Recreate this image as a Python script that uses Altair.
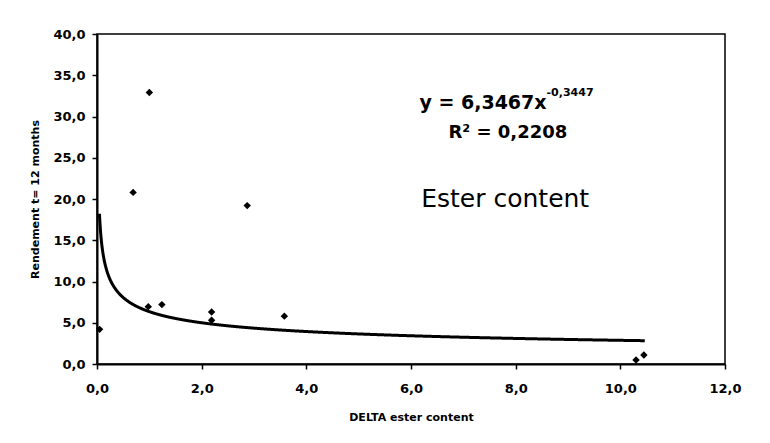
import altair as alt
import pandas as pd

# measured points (DELTA ester content, Rendement t=12 months)
x_vals = [0.05, 0.69, 1.00, 2.87, 0.98, 1.24, 2.19, 2.19, 3.58, 10.30, 10.45]
y_vals = [4.2, 20.8, 32.9, 19.2, 6.95, 7.2, 6.3, 5.3, 5.8, 0.48, 1.1]

x_ticks = [0, 2, 4, 6, 8, 10, 12]
y_ticks = [0, 5, 10, 15, 20, 25, 30, 35, 40]

# power trendline printed on the chart
fit_a = 6.3467
fit_b = -0.3447
fit_start = 0.047
fit_stop = 10.47

eq_main = "y = 6,3467x"
eq_exp = "-0,3447"
r2_text = "R² = 0,2208"
caption = "Ester content"

df = pd.DataFrame({"x": x_vals, "y": y_vals})
comma = "replace(format(datum.value, '.1f'), '.', ',')"

xscale = alt.Scale(domain=[0, 12], nice=False, zero=False)
yscale = alt.Scale(domain=[0, 40], nice=False, zero=False)

FONT = "DejaVu Sans"

xaxis = alt.Axis(values=x_ticks, labelExpr=comma, title="DELTA ester content", grid=False,
                 domainColor="black", domainWidth=2, tickColor="black", tickWidth=1.5,
                 tickSize=5, labelFont=FONT, labelFontWeight="bold", labelFontSize=13,
                 labelColor="black", labelPadding=13, titleFont=FONT, titleFontWeight="bold",
                 titleFontSize=11, titleColor="black", titlePadding=16, labelFlush=False)
yaxis = alt.Axis(values=y_ticks, labelExpr=comma, title="Rendement t= 12 months", grid=False,
                 domainColor="black", domainWidth=2, tickColor="black", tickWidth=1.5,
                 tickSize=5, labelFont=FONT, labelFontWeight="bold", labelFontSize=13,
                 labelColor="black", labelPadding=7, titleFont=FONT, titleFontWeight="bold",
                 titleFontSize=11, titleColor="black", titleX=-62, titleY=165,
                 titleAngle=-90, titleAlign="center", titleBaseline="middle", labelFlush=False)


def X():
    return alt.X("x:Q", scale=xscale, axis=xaxis)


def Y():
    return alt.Y("y:Q", scale=yscale, axis=yaxis)


points = alt.Chart(df).mark_point(shape="diamond", filled=True, color="black", size=55, opacity=1).encode(
    x=X(), y=Y())

curve = alt.Chart(alt.sequence(start=fit_start, stop=fit_stop, step=0.005, as_="x")).transform_calculate(
    y=f"{fit_a} * pow(datum.x, {fit_b})"
).mark_line(color="black", strokeWidth=3).encode(x=X(), y=Y())

ann = pd.DataFrame({
    "x": [8.59, 8.59, 7.85, 7.80],
    "y": [31.6, 32.9, 28.0, 20.0],
    "t": [eq_main, eq_exp, r2_text, caption],
})

eq1 = alt.Chart(ann.iloc[[0]]).mark_text(font=FONT, fontWeight="bold", fontSize=19, align="right",
                                          baseline="middle", color="black").encode(
    x=X(), y=Y(), text="t:N")
eq2 = alt.Chart(ann.iloc[[1]]).mark_text(font=FONT, fontWeight="bold", fontSize=11, align="left",
                                          baseline="middle", color="black").encode(
    x=X(), y=Y(), text="t:N")
r2 = alt.Chart(ann.iloc[[2]]).mark_text(font=FONT, fontWeight="bold", fontSize=18, align="center",
                                         baseline="middle", color="black").encode(
    x=X(), y=Y(), text="t:N")
cap = alt.Chart(ann.iloc[[3]]).mark_text(font=FONT, fontSize=25, align="center",
                                          baseline="middle", color="black").encode(
    x=X(), y=Y(), text="t:N")

chart = alt.layer(curve, points, eq1, eq2, r2, cap).properties(
    width=628, height=330,
    autosize=alt.AutoSizeParams(type="none"),
    padding={"left": 89, "top": 26, "right": 37, "bottom": 71},
    background="white",
).configure_view(stroke="black", strokeWidth=1.5)

chart.save("out.html", embed_options={"renderer": "svg", "actions": False})
